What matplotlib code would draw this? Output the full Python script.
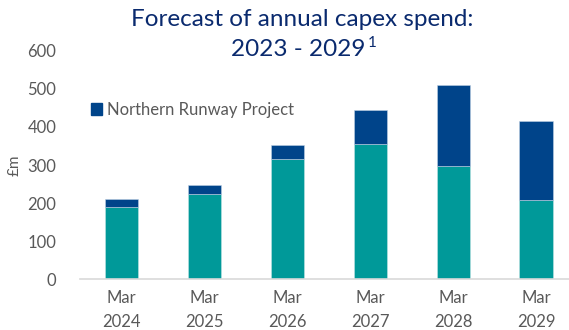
import matplotlib
matplotlib.use("Agg")
import matplotlib.pyplot as plt
from matplotlib.patches import Patch

# datos (en millones de libras)
etiquetas = ["Mar\n2024", "Mar\n2025", "Mar\n2026", "Mar\n2027", "Mar\n2028", "Mar\n2029"]
capex_base = [190, 223, 316, 355, 297, 208]
northern_runway = [20, 24, 36, 89, 212, 207]

TEAL = "#009999"
AZUL = "#00448A"
GRIS = "#595959"

plt.rcParams["font.family"] = ["Lato", "DejaVu Sans"]

fig = plt.figure(figsize=(5.69, 3.30), dpi=100)
ax = fig.add_axes([80 / 569, 1 - 279.3 / 330, (577.5 - 80) / 569, (279.3 - 50.7) / 330])

x = range(len(etiquetas))
ax.bar(x, capex_base, width=0.4, color=TEAL, edgecolor="#BFE3E3", linewidth=0.4)
ax.bar(x, northern_runway, width=0.4, bottom=capex_base, color=AZUL, edgecolor="#BFD0E3", linewidth=0.4)

ax.set_xlim(-0.5, 5.5)
ax.set_ylim(0, 600)
ax.set_yticks(range(0, 601, 100))
ax.set_xticks(list(x))
ax.set_xticklabels(etiquetas, fontsize=12, color=GRIS, linespacing=1.6)
ax.tick_params(axis="y", labelsize=12, labelcolor=GRIS, length=0, pad=17)
ax.tick_params(axis="x", length=0, pad=8)
for lado in ["top", "right", "left"]:
    ax.spines[lado].set_visible(False)
ax.spines["bottom"].set_color("#D9D9D9")
ax.spines["bottom"].set_linewidth(1.2)

ax.set_ylabel("£m", fontsize=11, color=GRIS, labelpad=4)

fig.legend(handles=[Patch(color=AZUL, label="Northern Runway Project")],
           loc="center left", bbox_to_anchor=(84 / 569, 1 - 110 / 330), frameon=False,
           fontsize=12, labelcolor=GRIS, handlelength=0.7, handleheight=0.7,
           handletextpad=0.3, borderaxespad=0)

fig.text(302 / 569, 1 - 20 / 330, "Forecast of annual capex spend:", ha="center", va="center",
         fontsize=17.5, color="#0A2A6E")
fig.text(298 / 569, 1 - 49 / 330, "2023 - 2029", ha="center", va="center",
         fontsize=17.5, color="#0A2A6E")
fig.text(368 / 569, 1 - 43 / 330, "1", ha="left", va="center",
         fontsize=11, color="#0A2A6E")

fig.savefig("out.png", dpi=100)
